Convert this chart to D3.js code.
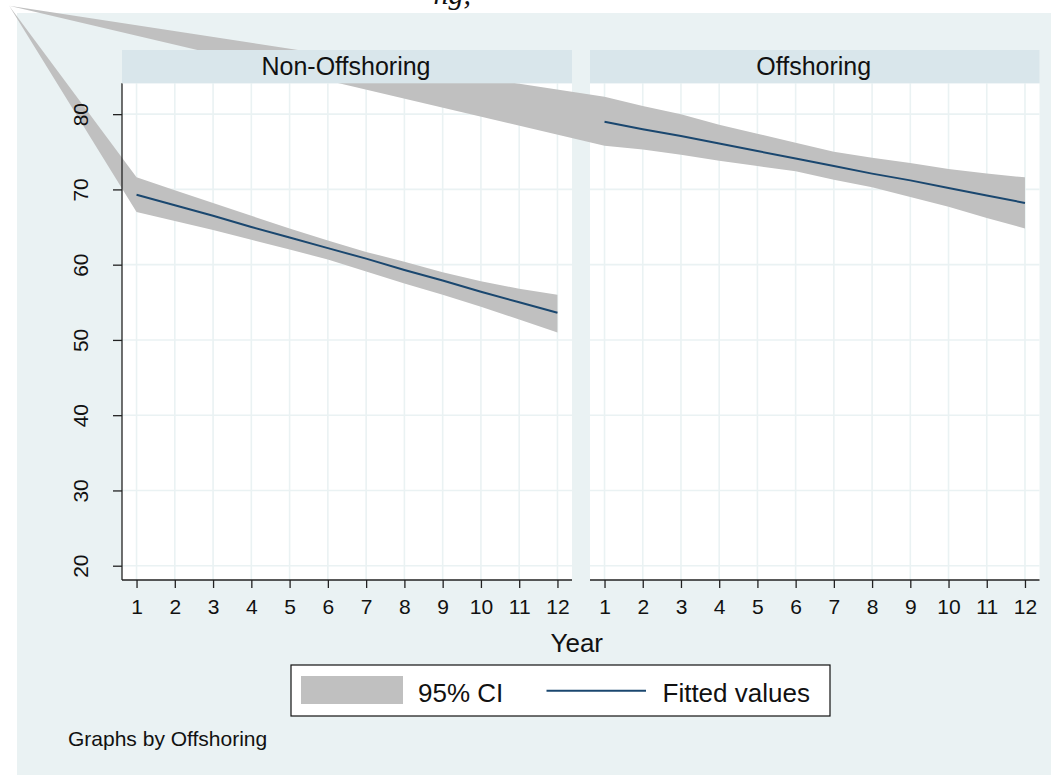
<!DOCTYPE html>
<html>
<head>
<meta charset="utf-8">
<script src="https://cdn.jsdelivr.net/npm/d3@7"></script>
<style>
  html, body { margin: 0; padding: 0; background: #ffffff; }
  svg { display: block; }
  text { font-family: "Liberation Sans", Arial, Helvetica, sans-serif; }
</style>
</head>
<body>
<svg id="chart" width="1064" height="778"></svg>
<script>
// ---------------- data ----------------
const years = [1, 2, 3, 4, 5, 6, 7, 8, 9, 10, 11, 12];
const panels = ["Non-Offshoring", "Offshoring"];

const nonFit   = [69.3, 67.9, 66.5, 65.0, 63.6, 62.2, 60.8, 59.3, 57.9, 56.4, 55.0, 53.6];
const nonUpper = [71.6, 69.9, 68.2, 66.5, 64.8, 63.2, 61.7, 60.4, 59.0, 57.8, 56.8, 56.0];
const nonLower = [67.0, 65.8, 64.6, 63.3, 62.0, 60.7, 59.1, 57.5, 56.0, 54.4, 52.7, 51.0];

const offFit   = [79.0, 78.0, 77.1, 76.1, 75.1, 74.1, 73.1, 72.1, 71.2, 70.2, 69.2, 68.2];
const offUpper = [82.3, 81.1, 80.0, 78.6, 77.4, 76.2, 75.0, 74.2, 73.5, 72.7, 72.1, 71.6];
const offLower = [75.8, 75.3, 74.6, 73.8, 73.1, 72.4, 71.3, 70.3, 69.0, 67.7, 66.2, 64.8];

// shared anchor vertex of the CI area paths (as drawn in the source), in left-panel data units
const ciAnchor = { year: -2.33, value: 94.4 };

const yTicks = [20, 30, 40, 50, 60, 70, 80];
const xTicks = years;
const legendLabels = ["95% CI", "Fitted values"];
const xTitle = "Year";
const note = "Graphs by Offshoring";
const topTitle = "ng,";   // only the tail of the cropped title is visible

// ---------------- styles ----------------
const C = {
  page: "#ffffff",
  region: "#EAF2F3",
  strip: "#D9E6EB",
  plot: "#ffffff",
  grid: "#EAF2F3",
  ci: "#C0C0C0",
  fit: "#1A476F",
  axis: "#222222",
  text: "#111111"
};

const svg = d3.select("#chart");

// graph region background
svg.append("rect").attr("x", 17).attr("y", 13).attr("width", 1034).attr("height", 762)
  .attr("fill", C.region);

// cropped title at the very top
svg.append("text").attr("x", 471).attr("y", 4)
  .attr("text-anchor", "end")
  .style("font-family", "'Liberation Serif', 'Times New Roman', serif")
  .style("font-style", "italic")
  .style("font-size", "30px")
  .attr("fill", C.text)
  .text(topTitle);

// panel layout
const plotTop = 83.3, plotBottom = 580, stripTop = 50;
const panelX = [[122, 572], [590, 1039.5]];
const xDomain = [0.62, 12.38];
const yDomain = [18.1, 84.1];

const y = d3.scaleLinear().domain(yDomain).range([plotBottom, plotTop]);
const xs = panelX.map(r => d3.scaleLinear().domain(xDomain).range(r));

const series = [
  { fit: nonFit, up: nonUpper, lo: nonLower },
  { fit: offFit, up: offUpper, lo: offLower }
];

const layerPlot = svg.append("g");
const layerCI = svg.append("g");
const layerAxes = svg.append("g");
const layerFit = svg.append("g");
const layerStrip = svg.append("g");

panels.forEach((name, i) => {
  const x = xs[i];
  const [x0, x1] = panelX[i];
  const g = layerPlot.append("g");
  g.append("rect").attr("x", x0).attr("y", plotTop).attr("width", x1 - x0)
    .attr("height", plotBottom - plotTop).attr("fill", C.plot);
  // grid
  g.selectAll("line.v").data(xTicks).join("line")
    .attr("x1", d => x(d)).attr("x2", d => x(d))
    .attr("y1", plotTop).attr("y2", plotBottom)
    .attr("stroke", C.grid).attr("stroke-width", 1.6);
  g.selectAll("line.h").data(yTicks).join("line")
    .attr("x1", x0).attr("x2", x1)
    .attr("y1", d => y(d)).attr("y2", d => y(d))
    .attr("stroke", C.grid).attr("stroke-width", 1.6);

  // x axis
  const xAxis = d3.axisBottom(x).tickValues(xTicks).tickSize(8).tickSizeOuter(0).tickPadding(11);
  const ax = layerAxes.append("g").attr("transform", `translate(0,${plotBottom})`).call(xAxis);
  ax.select(".domain").attr("stroke", C.axis).attr("stroke-width", 1.3)
    .attr("d", `M${x0},0H${x1}`);
  ax.selectAll(".tick line").attr("stroke", C.axis).attr("stroke-width", 1.3);
  ax.selectAll(".tick text").attr("fill", C.text).style("font-size", "21px")
    .style("font-family", "'Liberation Sans', Arial, sans-serif");

  // y axis on first panel only
  if (i === 0) {
    const yAxis = d3.axisLeft(y).tickValues(yTicks).tickSize(9).tickSizeOuter(0).tickPadding(0);
    const ay = layerAxes.append("g").attr("transform", `translate(${x0},0)`).call(yAxis);
    ay.select(".domain").attr("stroke", C.axis).attr("stroke-width", 1.3)
      .attr("d", `M0,${plotTop}V${plotBottom}`);
    ay.selectAll(".tick line").attr("stroke", C.axis).attr("stroke-width", 1.3);
    ay.selectAll(".tick text")
      .attr("x", null)
      .attr("text-anchor", "middle")
      .attr("transform", "translate(-41.5,0) rotate(-90)")
      .attr("dy", "0.36em")
      .attr("fill", C.text).style("font-size", "21px")
      .style("font-family", "'Liberation Sans', Arial, sans-serif");
  }

  // CI area path (with shared anchor vertex as in source)
  const s = series[i];
  const ax0 = xs[0](ciAnchor.year), ay0 = y(ciAnchor.value);
  const pts = [[ax0, ay0]];
  years.forEach((yr, k) => pts.push([x(yr), y(s.up[k])]));
  for (let k = years.length - 1; k >= 0; k--) pts.push([x(years[k]), y(s.lo[k])]);
  layerCI.append("path")
    .attr("d", d3.line()(pts) + "Z")
    .attr("fill", C.ci).attr("stroke", "none");

  // fitted line
  layerFit.append("path")
    .datum(years.map((yr, k) => [yr, s.fit[k]]))
    .attr("d", d3.line().x(d => x(d[0])).y(d => y(d[1])))
    .attr("fill", "none").attr("stroke", C.fit).attr("stroke-width", 2);

  // strip
  layerStrip.append("rect").attr("x", x0).attr("y", stripTop).attr("width", x1 - x0)
    .attr("height", plotTop - stripTop).attr("fill", C.strip);
  layerStrip.append("text").attr("x", (x0 + x1) / 2 - 1).attr("y", 74.5)
    .attr("text-anchor", "middle").style("font-size", "25px").attr("fill", C.text)
    .text(name);
});

layerAxes.raise();
layerFit.raise();
layerStrip.raise();

// x title
svg.append("text").attr("x", (panelX[0][0] + panelX[1][1]) / 2 - 4).attr("y", 652)
  .attr("text-anchor", "middle").style("font-size", "26px").attr("fill", C.text)
  .text(xTitle);

// legend
const lg = svg.append("g");
lg.append("rect").attr("x", 291).attr("y", 665).attr("width", 539).attr("height", 51)
  .attr("fill", "#ffffff").attr("stroke", "#111").attr("stroke-width", 1.2);
lg.append("rect").attr("x", 301).attr("y", 676).attr("width", 102).attr("height", 28)
  .attr("fill", C.ci);
lg.append("text").attr("x", 418).attr("y", 701.5).style("font-size", "26px")
  .attr("fill", C.text).text(legendLabels[0]);
lg.append("line").attr("x1", 546.5).attr("x2", 646).attr("y1", 690.7).attr("y2", 690.7)
  .attr("stroke", C.fit).attr("stroke-width", 2);
lg.append("text").attr("x", 662.5).attr("y", 701.5).style("font-size", "26px")
  .attr("fill", C.text).text(legendLabels[1]);

// note
svg.append("text").attr("x", 68).attr("y", 746).style("font-size", "21px")
  .attr("fill", C.text).text(note);
</script>
</body>
</html>
